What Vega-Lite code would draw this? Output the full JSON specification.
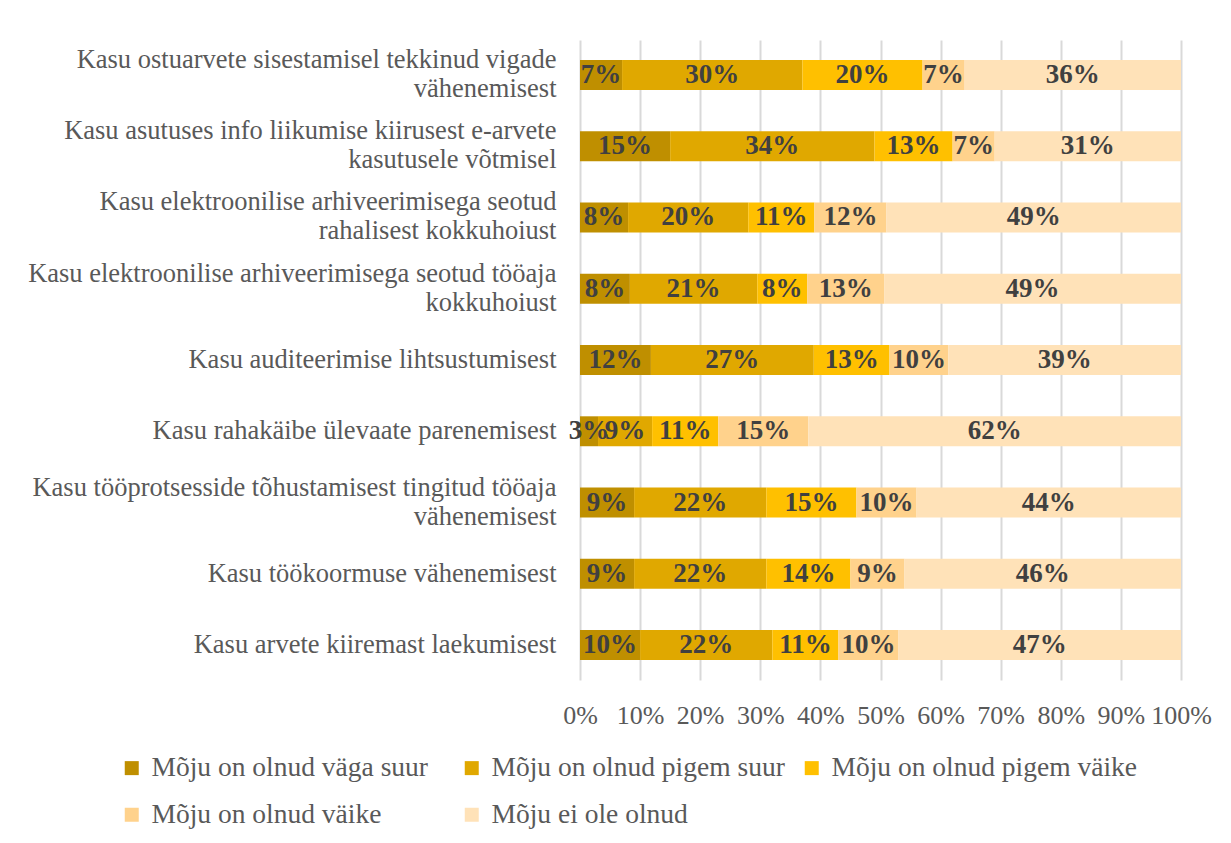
{
  "$schema": "https://vega.github.io/schema/vega-lite/v6.json",
  "width": 601,
  "height": 640,
  "autosize": "none",
  "padding": {"left": 580, "top": 40, "right": 50, "bottom": 163},
  "background": "white",
  "config": {
    "view": {"stroke": null},
    "font": "Liberation Serif"
  },
  "data": {
    "values": [
      {"q": "Kasu ostuarvete sisestamisel tekkinud vigade|vähenemisest", "cat": "Mõju on olnud väga suur", "v": 7},
      {"q": "Kasu ostuarvete sisestamisel tekkinud vigade|vähenemisest", "cat": "Mõju on olnud pigem suur", "v": 30},
      {"q": "Kasu ostuarvete sisestamisel tekkinud vigade|vähenemisest", "cat": "Mõju on olnud pigem väike", "v": 20},
      {"q": "Kasu ostuarvete sisestamisel tekkinud vigade|vähenemisest", "cat": "Mõju on olnud väike", "v": 7},
      {"q": "Kasu ostuarvete sisestamisel tekkinud vigade|vähenemisest", "cat": "Mõju ei ole olnud", "v": 36},
      {"q": "Kasu asutuses info liikumise kiirusest e-arvete|kasutusele võtmisel", "cat": "Mõju on olnud väga suur", "v": 15},
      {"q": "Kasu asutuses info liikumise kiirusest e-arvete|kasutusele võtmisel", "cat": "Mõju on olnud pigem suur", "v": 34},
      {"q": "Kasu asutuses info liikumise kiirusest e-arvete|kasutusele võtmisel", "cat": "Mõju on olnud pigem väike", "v": 13},
      {"q": "Kasu asutuses info liikumise kiirusest e-arvete|kasutusele võtmisel", "cat": "Mõju on olnud väike", "v": 7},
      {"q": "Kasu asutuses info liikumise kiirusest e-arvete|kasutusele võtmisel", "cat": "Mõju ei ole olnud", "v": 31},
      {"q": "Kasu elektroonilise arhiveerimisega seotud|rahalisest kokkuhoiust", "cat": "Mõju on olnud väga suur", "v": 8},
      {"q": "Kasu elektroonilise arhiveerimisega seotud|rahalisest kokkuhoiust", "cat": "Mõju on olnud pigem suur", "v": 20},
      {"q": "Kasu elektroonilise arhiveerimisega seotud|rahalisest kokkuhoiust", "cat": "Mõju on olnud pigem väike", "v": 11},
      {"q": "Kasu elektroonilise arhiveerimisega seotud|rahalisest kokkuhoiust", "cat": "Mõju on olnud väike", "v": 12},
      {"q": "Kasu elektroonilise arhiveerimisega seotud|rahalisest kokkuhoiust", "cat": "Mõju ei ole olnud", "v": 49},
      {"q": "Kasu elektroonilise arhiveerimisega seotud tööaja|kokkuhoiust", "cat": "Mõju on olnud väga suur", "v": 8.3},
      {"q": "Kasu elektroonilise arhiveerimisega seotud tööaja|kokkuhoiust", "cat": "Mõju on olnud pigem suur", "v": 21.2},
      {"q": "Kasu elektroonilise arhiveerimisega seotud tööaja|kokkuhoiust", "cat": "Mõju on olnud pigem väike", "v": 8.3},
      {"q": "Kasu elektroonilise arhiveerimisega seotud tööaja|kokkuhoiust", "cat": "Mõju on olnud väike", "v": 12.8},
      {"q": "Kasu elektroonilise arhiveerimisega seotud tööaja|kokkuhoiust", "cat": "Mõju ei ole olnud", "v": 49.4},
      {"q": "Kasu auditeerimise lihtsustumisest", "cat": "Mõju on olnud väga suur", "v": 11.8},
      {"q": "Kasu auditeerimise lihtsustumisest", "cat": "Mõju on olnud pigem suur", "v": 27.1},
      {"q": "Kasu auditeerimise lihtsustumisest", "cat": "Mõju on olnud pigem väike", "v": 12.6},
      {"q": "Kasu auditeerimise lihtsustumisest", "cat": "Mõju on olnud väike", "v": 9.8},
      {"q": "Kasu auditeerimise lihtsustumisest", "cat": "Mõju ei ole olnud", "v": 38.7},
      {"q": "Kasu rahakäibe ülevaate parenemisest", "cat": "Mõju on olnud väga suur", "v": 3},
      {"q": "Kasu rahakäibe ülevaate parenemisest", "cat": "Mõju on olnud pigem suur", "v": 9},
      {"q": "Kasu rahakäibe ülevaate parenemisest", "cat": "Mõju on olnud pigem väike", "v": 11},
      {"q": "Kasu rahakäibe ülevaate parenemisest", "cat": "Mõju on olnud väike", "v": 15},
      {"q": "Kasu rahakäibe ülevaate parenemisest", "cat": "Mõju ei ole olnud", "v": 62},
      {"q": "Kasu tööprotsesside tõhustamisest tingitud tööaja|vähenemisest", "cat": "Mõju on olnud väga suur", "v": 9},
      {"q": "Kasu tööprotsesside tõhustamisest tingitud tööaja|vähenemisest", "cat": "Mõju on olnud pigem suur", "v": 22},
      {"q": "Kasu tööprotsesside tõhustamisest tingitud tööaja|vähenemisest", "cat": "Mõju on olnud pigem väike", "v": 15},
      {"q": "Kasu tööprotsesside tõhustamisest tingitud tööaja|vähenemisest", "cat": "Mõju on olnud väike", "v": 10},
      {"q": "Kasu tööprotsesside tõhustamisest tingitud tööaja|vähenemisest", "cat": "Mõju ei ole olnud", "v": 44},
      {"q": "Kasu töökoormuse vähenemisest", "cat": "Mõju on olnud väga suur", "v": 9},
      {"q": "Kasu töökoormuse vähenemisest", "cat": "Mõju on olnud pigem suur", "v": 22},
      {"q": "Kasu töökoormuse vähenemisest", "cat": "Mõju on olnud pigem väike", "v": 14},
      {"q": "Kasu töökoormuse vähenemisest", "cat": "Mõju on olnud väike", "v": 9},
      {"q": "Kasu töökoormuse vähenemisest", "cat": "Mõju ei ole olnud", "v": 46},
      {"q": "Kasu arvete kiiremast laekumisest", "cat": "Mõju on olnud väga suur", "v": 10},
      {"q": "Kasu arvete kiiremast laekumisest", "cat": "Mõju on olnud pigem suur", "v": 22},
      {"q": "Kasu arvete kiiremast laekumisest", "cat": "Mõju on olnud pigem väike", "v": 11},
      {"q": "Kasu arvete kiiremast laekumisest", "cat": "Mõju on olnud väike", "v": 10},
      {"q": "Kasu arvete kiiremast laekumisest", "cat": "Mõju ei ole olnud", "v": 47}
    ]
  },
  "transform": [
    {"calculate": "indexof(['Mõju on olnud väga suur','Mõju on olnud pigem suur','Mõju on olnud pigem väike','Mõju on olnud väike','Mõju ei ole olnud'], datum.cat)", "as": "ord"},
    {"stack": "v", "groupby": ["q"], "sort": [{"field": "ord", "order": "ascending"}], "as": ["v0", "v1"]},
    {"calculate": "(datum.v0 + datum.v1) / 2", "as": "mid"},
    {"calculate": "format(datum.v, '.0f') + '%'", "as": "lab"}
  ],
  "encoding": {
    "y": {
      "field": "q",
      "type": "nominal",
      "sort": [
        "Kasu ostuarvete sisestamisel tekkinud vigade|vähenemisest",
        "Kasu asutuses info liikumise kiirusest e-arvete|kasutusele võtmisel",
        "Kasu elektroonilise arhiveerimisega seotud|rahalisest kokkuhoiust",
        "Kasu elektroonilise arhiveerimisega seotud tööaja|kokkuhoiust",
        "Kasu auditeerimise lihtsustumisest",
        "Kasu rahakäibe ülevaate parenemisest",
        "Kasu tööprotsesside tõhustamisest tingitud tööaja|vähenemisest",
        "Kasu töökoormuse vähenemisest",
        "Kasu arvete kiiremast laekumisest"
      ],
      "scale": {"paddingInner": 0.58, "paddingOuter": 0.28},
      "axis": {
        "title": null,
        "domain": false,
        "ticks": false,
        "labelExpr": "split(datum.label, '|')",
        "labelFont": "Liberation Serif",
        "labelFontSize": 26.5,
        "labelColor": "#595959",
        "labelPadding": 24,
        "labelLimit": 600,
        "labelLineHeight": 29,
        "labelOffset": {"condition": {"test": "indexof(datum.value, '|') >= 0", "value": -15}, "value": 0}
      }
    }
  },
  "layer": [
    {
      "mark": {"type": "bar"},
      "encoding": {
        "x": {
          "field": "v0",
          "type": "quantitative",
          "scale": {"domain": [0, 100], "nice": false},
          "axis": {
            "title": null,
            "values": [0, 10, 20, 30, 40, 50, 60, 70, 80, 90, 100],
            "labelExpr": "datum.value + '%'",
            "labelOverlap": false,
            "labelFlush": false,
            "domain": false,
            "ticks": false,
            "grid": true,
            "gridColor": "#D9D9D9",
            "gridWidth": 2,
            "labelFont": "Liberation Serif",
            "labelFontSize": 26,
            "labelColor": "#595959",
            "labelPadding": 22
          }
        },
        "x2": {"field": "v1"},
        "color": {
          "field": "cat",
          "type": "nominal",
          "scale": {
            "domain": ["Mõju on olnud väga suur", "Mõju on olnud pigem suur", "Mõju on olnud pigem väike", "Mõju on olnud väike", "Mõju ei ole olnud"],
            "range": ["#BF8F00", "#E0A800", "#FFC000", "#FFD28C", "#FFE2B8"]
          },
          "legend": {
            "title": null,
            "orient": "none",
            "legendX": -462,
            "legendY": 714,
            "direction": "horizontal",
            "columns": 3,
            "gridAlign": "all",
            "columnPadding": 0,
            "rowPadding": 18,
            "symbolType": "square",
            "symbolSize": 196,
            "symbolStrokeWidth": 0,
            "labelFont": "Liberation Serif",
            "labelFontSize": 27.5,
            "labelColor": "#595959",
            "labelLimit": 400,
            "labelOffset": 6
          }
        }
      }
    },
    {
      "mark": {"type": "text", "font": "Liberation Serif", "fontSize": 27, "fontWeight": "bold", "color": "#404040", "baseline": "middle", "align": "center"},
      "encoding": {
        "x": {"field": "mid", "type": "quantitative"},
        "text": {"field": "lab", "type": "nominal"}
      }
    }
  ]
}
